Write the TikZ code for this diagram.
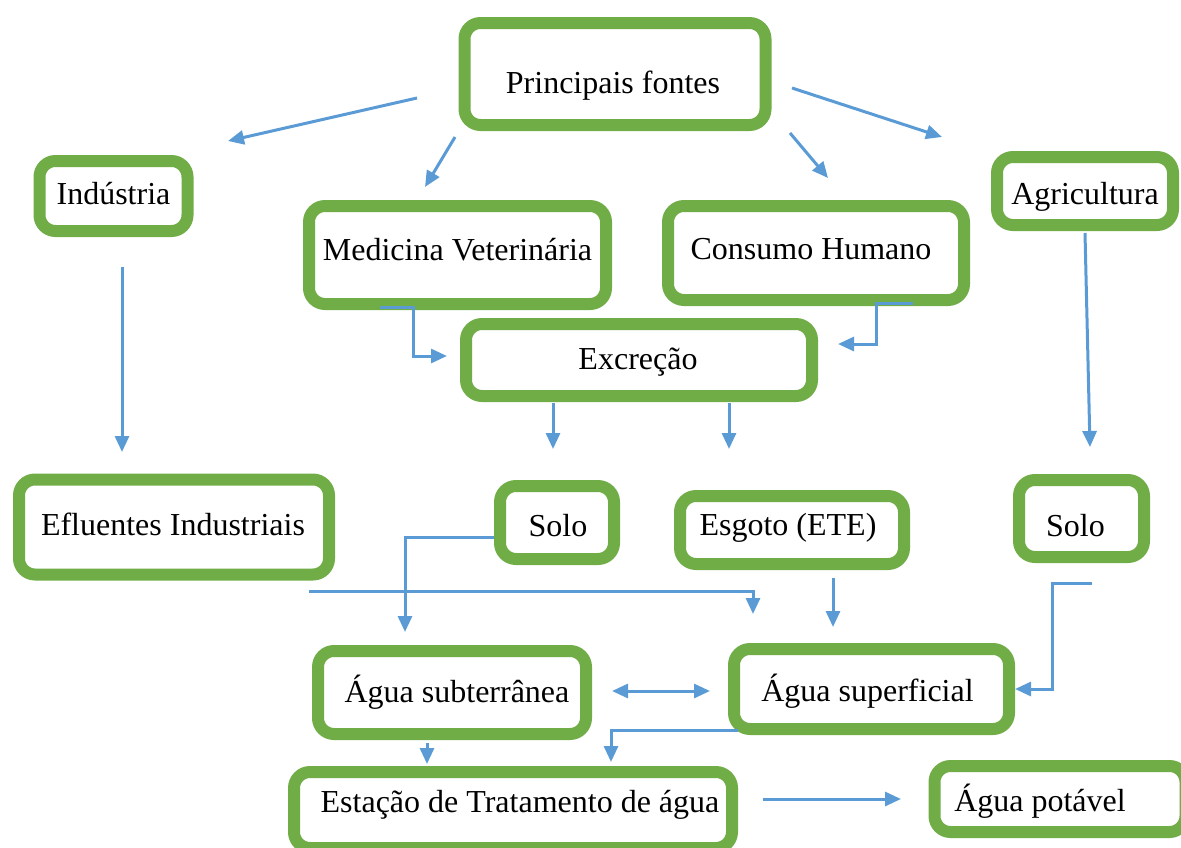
\documentclass[tikz,border=0pt]{standalone}
\usepackage{fontspec}
\setmainfont{Liberation Serif}
\usetikzlibrary{arrows.meta}
\definecolor{boxgreen}{HTML}{70AD47}
\definecolor{flowblue}{HTML}{5B9BD5}
\tikzset{caixa/.style={draw=boxgreen, line width=12pt, rounded corners=16pt, fill=white, inner sep=0pt}}
\tikzset{texto/.style={inner sep=0pt, font=\fontsize{32}{38}\selectfont}}
\tikzset{seta/.style={draw=flowblue, line width=3pt, -{Triangle[length=16pt,width=14pt]}}}
\tikzset{dupla/.style={seta, {Triangle[length=16pt,width=14pt]}-{Triangle[length=16pt,width=14pt]}}}
% nome, centro, largura, altura, desvio do texto, texto
\newcommand{\caixa}[6]{\node[caixa, minimum width=#3pt, minimum height=#4pt] (#1) at (#2) {};
  \node[texto, shift={(#5)}] (#1-t) at (#1) {#6};}

\begin{document}
\begin{tikzpicture}[x=1pt, y=-1pt]
\clip (0,0) rectangle (1181,847);
% caixas
\caixa{fontes}{615,74}{301}{102}{-2,12}{Principais fontes}
\caixa{industria}{113.5,196}{148}{70}{0,-2}{Indústria}
\caixa{medicina}{457.5,255}{297}{98}{0,-5}{Medicina Veterinária}
\caixa{consumo}{816,253}{296}{94}{-5,-4}{Consumo Humano}
\caixa{agricultura}{1085,191}{176}{68}{0,6}{Agricultura}
\caixa{excrecao}{639,360}{346}{72}{-1,2}{Excreção}
\caixa{efluentes}{174,527}{310}{95}{-1,-3}{Efluentes Industriais}
\caixa{solo}{557,522.5}{114}{73}{1,3}{Solo}
\caixa{esgoto}{792,530}{224}{68}{-4,-2}{Esgoto (ETE)}
\caixa{soloagr}{1081.5,518.5}{125}{77}{-6,7}{Solo}
\caixa{subterranea}{452,692.5}{268}{83}{5,0}{Água subterrânea}
\caixa{superficial}{871.5,689}{275}{80}{-4,2}{Água superficial}
\caixa{estacao}{513,810}{438}{76}{7,-5}{Estação de Tratamento de água}
\caixa{potavel}{1060,799}{251}{66}{-20,2}{Água potável}
% pontas das setas
\coordinate (a1) at (417,98);   \coordinate (b1) at (228,141);
\coordinate (a2) at (455,137);  \coordinate (b2) at (425,187);
\coordinate (a3) at (790,133);  \coordinate (b3) at (828,178);
\coordinate (a4) at (792,88);   \coordinate (b4) at (942,137);
\coordinate (a5) at (122,267);  \coordinate (b5) at (122,452);
\coordinate (a6) at (380,307);  \coordinate (c6) at (413,356);  \coordinate (b6) at (447,356);
\coordinate (a7) at (913,303);  \coordinate (c7) at (876,344);  \coordinate (b7) at (838,344);
\coordinate (a8) at (553,403);  \coordinate (b8) at (553,449);
\coordinate (a9) at (729,403);  \coordinate (b9) at (729,449);
\coordinate (a10) at (1085,233); \coordinate (b10) at (1090,447);
\coordinate (a11) at (494,537); \coordinate (b11) at (405,632);
\coordinate (a12) at (309,591); \coordinate (b12) at (753,614);
\coordinate (a13) at (833,578); \coordinate (b13) at (833,627);
\coordinate (a14) at (1092,583); \coordinate (c14) at (1052,689); \coordinate (b14) at (1015,689);
\coordinate (a15) at (612,691); \coordinate (b15) at (710,691);
\coordinate (a16) at (427,743); \coordinate (b16) at (427,764);
\coordinate (a17) at (738,730); \coordinate (b17) at (611,762);
\coordinate (a18) at (763,799); \coordinate (b18) at (901,799);
% setas
\foreach \i in {1,2,3,4,5,8,9,10,13,16,18} \draw[seta] (a\i) -- (b\i);
\draw[seta] (a6) -| (c6) -- (b6);
\draw[seta] (a7) -| (c7) -- (b7);
\draw[seta] (a11) -| (b11);
\draw[seta] (a12) -| (b12);
\draw[seta] (a14) -| (c14) -- (b14);
\draw[seta] (a17) -| (b17);
\draw[dupla] (a15) -- (b15);
\end{tikzpicture}
\end{document}
